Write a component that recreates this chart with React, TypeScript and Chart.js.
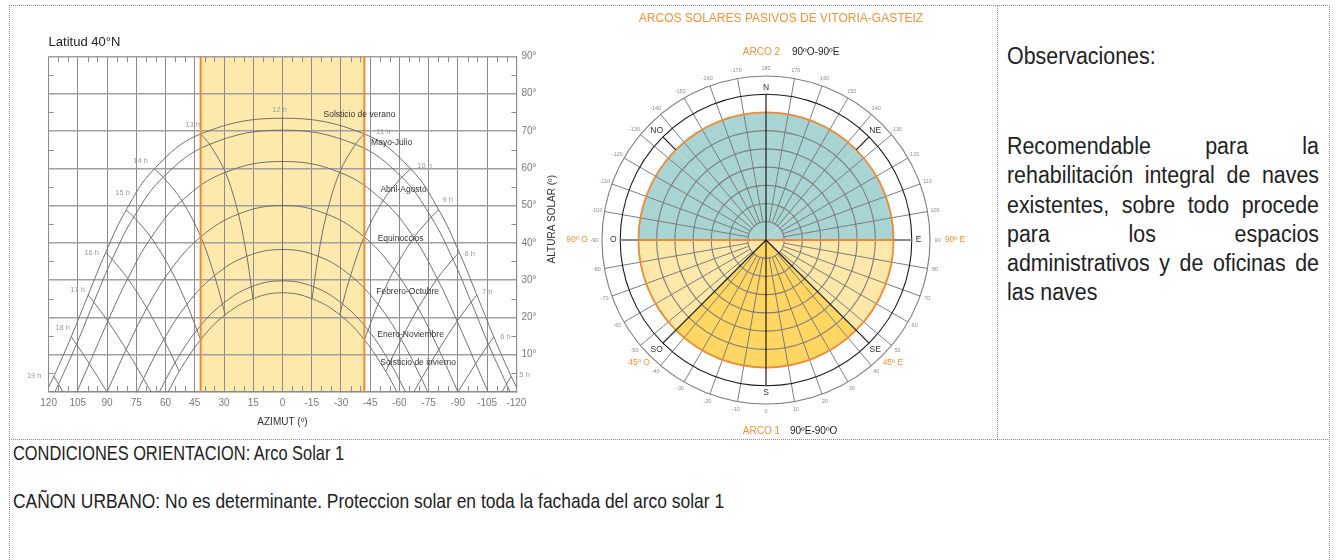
import React, { useEffect, useRef } from 'react';
import { Chart, registerables } from 'chart.js';

Chart.register(...registerables);

const FONT = '"Liberation Sans", Arial, Helvetica, sans-serif';
Chart.defaults.font.family = FONT;

// ---------------- Sun path diagram (Latitud 40°N) ----------------
const hours = [5, 6, 7, 8, 9, 10, 11, 12, 13, 14, 15, 16, 17, 18, 19];
const curveNames = [
  'Solsticio de verano',
  'Mayo-Julio',
  'Abril-Agosto',
  'Equinoccios',
  'Febrero-Octubre',
  'Enero-Noviembre',
  'Solsticio de invierno',
];

// azimuth (°, + = afternoon / west) and solar altitude (°) at each hour; null = far below horizon
const azVerano = [-117.3, -108.4, -99.7, -90.7, -80.2, -65.8, -41.9, 0, 41.9, 65.8, 80.2, 90.7, 99.7, 108.4, 117.3];
const altVerano = [4.2, 14.8, 26.0, 37.4, 48.8, 59.8, 69.2, 73.4, 69.2, 59.8, 48.8, 37.4, 26.0, 14.8, 4.2];
const azMayoJulio = [-114.9, -105.7, -96.8, -87.4, -76.3, -61.2, -37.4, 0, 37.4, 61.2, 76.3, 87.4, 96.8, 105.7, 114.9];
const altMayoJulio = [2.1, 12.8, 24.1, 35.6, 46.9, 57.6, 66.4, 70.2, 66.4, 57.6, 46.9, 35.6, 24.1, 12.8, 2.1];
const azAbrilAgosto = [-108.7, -99.1, -89.6, -79.4, -67.4, -51.6, -29.3, 0, 29.3, 51.6, 67.4, 79.4, 89.6, 99.1, 108.7];
const altAbrilAgosto = [-3.6, 7.6, 19.0, 30.4, 41.4, 51.3, 58.9, 61.8, 58.9, 51.3, 41.4, 30.4, 19.0, 7.6, -3.6];
const azEquinoccios = [null, -90, -80.2, -69.6, -57.3, -41.9, -22.6, 0, 22.6, 41.9, 57.3, 69.6, 80.2, 90, null];
const altEquinoccios = [null, 0, 11.4, 22.5, 32.8, 41.6, 47.7, 50.0, 47.7, 41.6, 32.8, 22.5, 11.4, 0, null];
const azFebreroOctubre = [null, -80.9, -71.3, -60.9, -49.0, -34.9, -18.3, 0, 18.3, 34.9, 49.0, 60.9, 71.3, 80.9, null];
const altFebreroOctubre = [null, -7.6, 3.6, 14.1, 23.5, 31.2, 36.4, 38.2, 36.4, 31.2, 23.5, 14.1, 3.6, -7.6, null];
const azEneroNoviembre = [null, null, -65.1, -55.1, -43.9, -30.8, -16.0, 0, 16.0, 30.8, 43.9, 55.1, 65.1, null, null];
const altEneroNoviembre = [null, null, -2.1, 7.9, 16.6, 23.6, 28.2, 29.8, 28.2, 23.6, 16.6, 7.9, -2.1, null, null];
const azInvierno = [null, null, -62.7, -53.0, -42.0, -29.4, -15.2, 0, 15.2, 29.4, 42.0, 53.0, 62.7, null, null];
const altInvierno = [null, null, -4.2, 5.5, 14.0, 20.7, 25.0, 26.6, 25.0, 20.7, 14.0, 5.5, -4.2, null, null];
// azimuth of sunrise / sunset (altitude 0) for each curve
const sunriseAz = [121.3, 116.8, 105.5, 90, 74.5, 63.2, 58.7];

const protectedAz = [42, -42];

const xTickValues = [120, 105, 90, 75, 60, 45, 30, 15, 0, -15, -30, -45, -60, -75, -90, -105, -120];
const yTickValues = [0, 10, 20, 30, 40, 50, 60, 70, 80, 90];
const yTickLabels = ['', '10°', '20°', '30°', '40°', '50°', '60°', '70°', '80°', '90°'];

// label anchors (azimuth, altitude)
const hourLabelAz = [-124.2, -114.4, -105.0, -96.1, -84.7, -72.9, -51.8, 1.5, 46.1, 72.8, 82.0, 97.9, 105.1, 112.8, 127.4];
const hourLabelAlt = [4.6, 14.7, 26.8, 37.0, 51.5, 60.6, 69.7, 75.6, 71.6, 61.9, 53.3, 37.3, 27.3, 17.2, 4.3];
const curveLabelAz = [-39.5, -56.0, -62.1, -60.6, -64.2, -65.7, -69.6];
const curveLabelAlt = [74.3, 66.8, 54.2, 41.0, 26.8, 15.5, 8.0];

// ---------------- Solar arcs (Vitoria-Gasteiz) ----------------
const sectorNames = ['N-NE', 'NE-E', 'E-SE', 'SE-S', 'S-SO', 'SO-O', 'O-NO', 'NO-N'];
const sectorArc = [2, 2, 1, 1, 1, 1, 2, 2];
const sectorCore = [false, false, false, true, true, false, false, false];
const sectorReach = [7, 7, 7, 7, 7, 7, 7, 7];
const ringValues = [1, 2, 3, 4, 5, 6];
const directionTicks = [
  -170, -160, -150, -140, -130, -120, -110, -100, -90, -80, -70, -60, -50, -40, -30, -20, -10,
  0, 10, 20, 30, 40, 50, 60, 70, 80, 90, 100, 110, 120, 130, 140, 150, 160, 170, 180,
];
const cardinalNames = ['S', 'SE', 'E', 'NE', 'N', 'NO', 'O', 'SO'];
const cardinalAngles = [0, 45, 90, 135, 180, -135, -90, -45];
const limitLabels = ['90º O', '90º E', '45º O', '45º E'];
const limitAngles = [-90, 90, -45.9, 45.9];

const ORANGE = '#ee8a36';
const BLUE = '#a8d4d3';
const LIGHT_YELLOW = '#fee8a9';
const DARK_YELLOW = '#fed661';
const BAND = '#fde9ab';
const LINE_GRAY = '#707070';

const sunPlugin = {
  id: 'sunDecor',
  beforeDraw(chart: any) {
    const { ctx, chartArea: a, scales } = chart;
    const x1 = scales.x.getPixelForValue(protectedAz[0]);
    const x2 = scales.x.getPixelForValue(protectedAz[1]);
    ctx.save();
    ctx.fillStyle = BAND;
    ctx.fillRect(Math.min(x1, x2), a.top, Math.abs(x2 - x1), a.bottom - a.top);
    ctx.restore();
  },
  afterDraw(chart: any) {
    const { ctx, chartArea: a, scales } = chart;
    const xs = scales.x;
    const ys = scales.y;
    ctx.save();
    // minor ticks every 5°
    ctx.strokeStyle = '#8c8c8c';
    ctx.lineWidth = 1;
    ctx.beginPath();
    for (let v = -115; v <= 115; v += 5) {
      if (v % 15 === 0) continue;
      const px = Math.round(xs.getPixelForValue(v)) + 0.5;
      ctx.moveTo(px, a.top);
      ctx.lineTo(px, a.top + 6);
      ctx.moveTo(px, a.bottom);
      ctx.lineTo(px, a.bottom - 6);
    }
    for (let v = 5; v < 90; v += 10) {
      const py = Math.round(ys.getPixelForValue(v)) + 0.5;
      ctx.moveTo(a.left, py);
      ctx.lineTo(a.left + 5, py);
      ctx.moveTo(a.right, py);
      ctx.lineTo(a.right - 5, py);
    }
    ctx.stroke();

    ctx.textAlign = 'center';
    ctx.textBaseline = 'middle';
    // hour labels
    ctx.fillStyle = '#9a9a9a';
    ctx.font = `7.5px ${FONT}`;
    hours.forEach((h, i) => {
      ctx.fillText(`${h} h`, xs.getPixelForValue(hourLabelAz[i]), ys.getPixelForValue(hourLabelAlt[i]));
    });
    // curve labels
    ctx.fillStyle = '#333';
    ctx.font = `8.5px ${FONT}`;
    curveNames.forEach((n, i) => {
      ctx.fillText(n, xs.getPixelForValue(curveLabelAz[i]), ys.getPixelForValue(curveLabelAlt[i]));
    });
    // y-axis title (reads bottom to top)
    ctx.translate(a.right + 36, (a.top + a.bottom) / 2 - 5);
    ctx.rotate(-Math.PI / 2);
    ctx.fillStyle = '#333';
    ctx.font = `10px ${FONT}`;
    ctx.fillText('ALTURA SOLAR (º)', 0, 0);
    ctx.restore();
  },
};

function SunChart() {
  const ref = useRef<HTMLCanvasElement>(null);
  useEffect(() => {
    const sunAz = [azVerano, azMayoJulio, azAbrilAgosto, azEquinoccios, azFebreroOctubre, azEneroNoviembre, azInvierno];
    const sunAlt = [altVerano, altMayoJulio, altAbrilAgosto, altEquinoccios, altFebreroOctubre, altEneroNoviembre, altInvierno];

    const curveSets = curveNames.map((name, c) => {
      const pts: any[] = [{ x: -sunriseAz[c], y: 0 }];
      hours.forEach((_, i) => {
        const a = sunAlt[c][i];
        const z = sunAz[c][i];
        if (a !== null && z !== null && a > 0) pts.push({ x: z, y: a });
      });
      pts.push({ x: sunriseAz[c], y: 0 });
      return {
        label: name,
        data: pts,
        showLine: true,
        borderColor: LINE_GRAY,
        borderWidth: 1,
        tension: 0.4,
        pointRadius: 0,
      };
    });

    const hourSets = hours.map((h, i) => {
      const pts: any[] = [];
      for (let c = 0; c < curveNames.length; c++) {
        const a = sunAlt[c][i];
        const z = sunAz[c][i];
        if (a === null || z === null) break;
        pts.push({ x: z, y: a });
        if (a < 0) break;
      }
      return {
        label: `${h} h`,
        data: pts,
        showLine: true,
        borderColor: LINE_GRAY,
        borderWidth: 1,
        tension: 0.35,
        pointRadius: 0,
      };
    });

    const orangeSets = protectedAz.map((az) => ({
      label: `límite ${az}`,
      data: [
        { x: az, y: 0 },
        { x: az, y: 90 },
      ],
      showLine: true,
      borderColor: ORANGE,
      borderWidth: 2,
      pointRadius: 0,
    }));

    const chart = new Chart(ref.current as HTMLCanvasElement, {
      type: 'scatter',
      data: { datasets: [...orangeSets, ...curveSets, ...hourSets] as any },
      options: {
        responsive: false,
        animation: false,
        layout: { padding: { left: 48.6, top: 56.3, right: 0, bottom: 0 } },
        plugins: { legend: { display: false }, tooltip: { enabled: false } },
        scales: {
          x: {
            type: 'linear',
            min: -120,
            max: 120,
            reverse: true,
            position: 'bottom',
            afterBuildTicks: (s: any) => {
              s.ticks = xTickValues.map((v) => ({ value: v }));
            },
            afterFit: (s: any) => {
              s.height = 48;
            },
            ticks: {
              autoSkip: false,
              maxRotation: 0,
              padding: 5,
              color: '#7a7a7a',
              font: { size: 10, family: FONT },
              callback: (v: any) => String(v),
            },
            grid: { color: '#8c8c8c', lineWidth: 1, drawTicks: false },
            border: { color: '#8c8c8c', width: 1.2 },
            title: {
              display: true,
              text: 'AZIMUT (º)',
              color: '#333',
              font: { size: 10, family: FONT },
              padding: { top: 0, bottom: 12 },
            },
          },
          y: {
            type: 'linear',
            min: 0,
            max: 90,
            position: 'right',
            afterBuildTicks: (s: any) => {
              s.ticks = yTickValues.map((v) => ({ value: v }));
            },
            afterFit: (s: any) => {
              s.width = 48.6;
            },
            ticks: {
              padding: 5,
              color: '#7a7a7a',
              font: { size: 10, family: FONT },
              callback: (v: any) => {
                const i = yTickValues.indexOf(Number(v));
                return i >= 0 ? yTickLabels[i] : '';
              },
            },
            grid: { color: '#a0a0a0', lineWidth: 1.4, drawTicks: false },
            border: { color: '#8c8c8c', width: 1.2 },
          },
        },
      } as any,
      plugins: [sunPlugin],
    });
    return () => chart.destroy();
  }, []);
  return (
    <canvas
      ref={ref}
      width={565}
      height={440}
      style={{ position: 'absolute', left: 0, top: 0, width: 565, height: 440 }}
    />
  );
}

const polarPlugin = {
  id: 'polarDecor',
  afterDraw(chart: any) {
    const s = chart.scales.r;
    const ctx = chart.ctx;
    const cx = s.xCenter;
    const cy = s.yCenter;
    const R = (v: number) => s.getDistanceFromCenterForValue(v);
    const P = (deg: number, v: number) => {
      const r = R(v);
      const t = (deg * Math.PI) / 180;
      return [cx + r * Math.sin(t), cy + r * Math.cos(t)];
    };
    const line = (a: number[], b: number[], color: string, w: number) => {
      ctx.beginPath();
      ctx.moveTo(a[0], a[1]);
      ctx.lineTo(b[0], b[1]);
      ctx.strokeStyle = color;
      ctx.lineWidth = w;
      ctx.stroke();
    };
    const ring = (v: number, color: string, w: number) => {
      ctx.beginPath();
      ctx.arc(cx, cy, R(v), 0, Math.PI * 2);
      ctx.strokeStyle = color;
      ctx.lineWidth = w;
      ctx.stroke();
    };
    ctx.save();
    ringValues.forEach((v) => ring(v, '#7d7d7d', 1.1));
    directionTicks.forEach((d) => {
      if (d % 90 === 0) return;
      line(P(d, 1), P(d, 9), '#7d7d7d', 1);
    });
    ring(7, ORANGE, 1.8);
    ring(8, '#1a1a1a', 1.1);
    ring(9, '#7d7d7d', 1.1);
    line(P(-90, 8), P(90, 8), '#8a8a8a', 2);
    line(P(-90, 7), P(90, 7), ORANGE, 2);
    line(P(180, 8), P(0, 8), '#1a1a1a', 1.2);
    [45, -45].forEach((d) => line([cx, cy], P(d, 8), '#1a1a1a', 1.2));
    [135, -135].forEach((d) => line(P(d, 7), P(d, 8), '#1a1a1a', 1.2));

    ctx.textAlign = 'center';
    ctx.textBaseline = 'middle';
    // direction numbers
    ctx.fillStyle = '#8d8d8d';
    ctx.font = `5.5px ${FONT}`;
    directionTicks.forEach((d) => {
      const p = P(d, 9.42);
      ctx.fillText(String(d), p[0], p[1]);
    });
    // cardinal points
    ctx.fillStyle = '#333';
    ctx.font = `8.5px ${FONT}`;
    cardinalNames.forEach((n, i) => {
      const p = P(cardinalAngles[i], cardinalAngles[i] % 90 === 0 ? 8.38 : 8.48);
      ctx.fillText(n, p[0], p[1]);
    });
    // arc limits
    ctx.fillStyle = '#f39237';
    ctx.font = `8.5px ${FONT}`;
    limitLabels.forEach((n, i) => {
      const p = P(limitAngles[i], Math.abs(limitAngles[i]) === 90 ? 10.37 : 9.7);
      ctx.fillText(n, p[0], p[1]);
    });
    // arc names
    ctx.font = `10px ${FONT}`;
    const top = P(180, 10.3);
    const bottom = P(0, 10.48);
    ctx.textAlign = 'right';
    ctx.fillStyle = '#f39237';
    ctx.fillText('ARCO 2', top[0] + 14, top[1]);
    ctx.fillText('ARCO 1', bottom[0] + 14, bottom[1]);
    ctx.textAlign = 'left';
    ctx.fillStyle = '#222';
    ctx.fillText('90ºO-90ºE', top[0] + 26, top[1]);
    ctx.fillText('90ºE-90ºO', bottom[0] + 24, bottom[1]);
    ctx.restore();
  },
};

function ArcChart() {
  const ref = useRef<HTMLCanvasElement>(null);
  useEffect(() => {
    const colors = sectorNames.map((_, i) =>
      sectorCore[i] ? DARK_YELLOW : sectorArc[i] === 2 ? BLUE : LIGHT_YELLOW
    );
    const chart = new Chart(ref.current as HTMLCanvasElement, {
      type: 'polarArea',
      data: {
        labels: sectorNames,
        datasets: [{ data: sectorReach, backgroundColor: colors, borderWidth: 0 }],
      },
      options: {
        responsive: false,
        animation: false,
        layout: { padding: { left: 46, right: 46, top: 76, bottom: 41 } },
        plugins: { legend: { display: false }, tooltip: { enabled: false } },
        scales: {
          r: {
            min: 0,
            max: 9,
            startAngle: 0,
            ticks: { display: false, stepSize: 1 },
            angleLines: { display: false },
            pointLabels: { display: false },
            grid: { display: false },
          },
        },
      } as any,
      plugins: [polarPlugin],
    });
    return () => chart.destroy();
  }, []);
  return (
    <canvas
      ref={ref}
      width={420}
      height={445}
      style={{ position: 'absolute', left: 556, top: 0, width: 420, height: 445 }}
    />
  );
}

const dotted = '1px dotted #8a8a8a';

const obsLines = [
  'Recomendable para la',
  'rehabilitación integral de naves',
  'existentes, sobre todo procede',
  'para los espacios',
  'administrativos y de oficinas de',
  'las naves',
];

export default function App() {
  return (
    <div
      style={{
        position: 'relative',
        width: 1337,
        height: 560,
        overflow: 'hidden',
        background: '#fff',
        fontFamily: FONT,
        color: '#222',
      }}
    >
      <style>{`html,body{margin:0;padding:0;background:#fff;}`}</style>
      {/* frame */}
      <div style={{ position: 'absolute', left: 9, top: 5, width: 1321, height: 0, borderTop: dotted }} />
      <div style={{ position: 'absolute', left: 9, top: 439, width: 1321, height: 0, borderTop: dotted }} />
      <div style={{ position: 'absolute', left: 9, top: 5, width: 0, height: 555, borderLeft: dotted }} />
      <div style={{ position: 'absolute', left: 997, top: 5, width: 0, height: 434, borderLeft: dotted }} />
      <div style={{ position: 'absolute', left: 1329, top: 5, width: 0, height: 555, borderLeft: dotted }} />

      <SunChart />
      <ArcChart />

      <div
        style={{
          position: 'absolute',
          left: 48.6,
          top: 33.7,
          fontSize: 13,
          lineHeight: '16px',
          color: '#222',
          whiteSpace: 'nowrap',
        }}
      >
        Latitud 40°N
      </div>

      <div
        style={{
          position: 'absolute',
          left: 581,
          top: 11,
          width: 400,
          textAlign: 'center',
          fontSize: 12,
          lineHeight: '14px',
          color: '#f39237',
          whiteSpace: 'nowrap',
        }}
      >
        ARCOS SOLARES PASIVOS DE VITORIA-GASTEIZ
      </div>

      <div
        style={{
          position: 'absolute',
          left: 1007,
          top: 42,
          fontSize: 23,
          lineHeight: '28px',
          transform: 'scaleX(0.93)',
          transformOrigin: '0 0',
          whiteSpace: 'nowrap',
        }}
      >
        Observaciones:
      </div>
      <div
        style={{
          position: 'absolute',
          left: 1007,
          top: 132,
          width: 335.5,
          fontSize: 23,
          lineHeight: '29.3px',
          transform: 'scaleX(0.93)',
          transformOrigin: '0 0',
        }}
      >
        {obsLines.map((l, i) => (
          <div
            key={i}
            style={{
              textAlign: i < obsLines.length - 1 ? 'justify' : 'left',
              textAlignLast: i < obsLines.length - 1 ? 'justify' : 'left',
              whiteSpace: 'nowrap',
            } as any}
          >
            {l}
          </div>
        ))}
      </div>

      <div
        style={{
          position: 'absolute',
          left: 13.3,
          top: 441,
          fontSize: 21,
          lineHeight: '24px',
          transform: 'scaleX(0.78)',
          transformOrigin: '0 0',
          whiteSpace: 'nowrap',
        }}
      >
        CONDICIONES ORIENTACION: Arco Solar 1
      </div>
      <div
        style={{
          position: 'absolute',
          left: 13.3,
          top: 489,
          fontSize: 21,
          lineHeight: '24px',
          transform: 'scaleX(0.83)',
          transformOrigin: '0 0',
          whiteSpace: 'nowrap',
        }}
      >
        CAÑON URBANO: No es determinante. Proteccion solar en toda la fachada del arco solar 1
      </div>
    </div>
  );
}
